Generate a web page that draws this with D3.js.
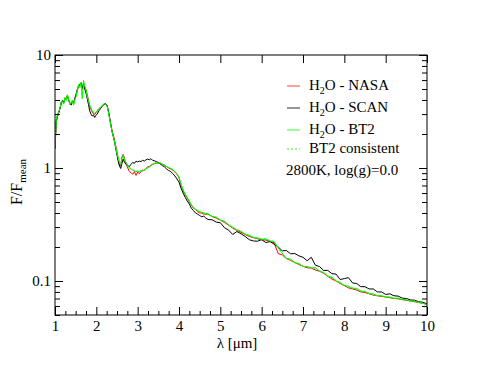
<!DOCTYPE html>
<html><head><meta charset="utf-8">
<script src="https://cdn.jsdelivr.net/npm/d3@7"></script>
<style>
body{margin:0;background:#fff}
svg{display:block}
text{font-family:"Liberation Serif","Times New Roman",serif;fill:#000}
</style>
</head><body>
<svg id="chart" width="494" height="382"></svg>
<script>
// wavelength grid (micron)
const lambda = [1.00,1.03,1.06,1.09,1.12,1.15,1.18,1.21,1.24,1.27,1.30,1.33,1.36,1.39,1.42,1.45,1.48,1.51,1.54,1.57,1.60,1.63,1.66,1.69,1.72,1.75,1.78,1.81,1.84,1.87,1.90,1.93,1.96,1.99,2.02,2.06,2.10,2.14,2.18,2.22,2.26,2.30,2.34,2.38,2.42,2.46,2.50,2.53,2.56,2.59,2.62,2.65,2.68,2.72,2.76,2.80,2.84,2.88,2.92,2.96,3.00,3.04,3.08,3.12,3.16,3.20,3.24,3.28,3.32,3.36,3.40,3.45,3.50,3.55,3.60,3.65,3.70,3.75,3.80,3.85,3.90,3.95,4.00,4.05,4.10,4.15,4.20,4.25,4.30,4.35,4.40,4.45,4.50,4.55,4.60,4.65,
4.7,4.8,4.9,5.0,5.1,5.2,5.3,5.4,5.5,5.6,5.7,5.8,5.9,6.0,6.1,6.2,6.3,6.4,6.5,6.6,6.7,6.8,6.9,7.0,7.1,7.2,7.3,7.4,7.5,7.6,7.7,7.8,7.9,8.0,8.1,8.2,8.3,8.4,8.5,8.6,8.7,8.8,8.9,9.0,9.1,9.2,9.3,9.4,9.5,9.6,9.7,9.8,9.9,10.0];

const bt2 = [1.55,2.68,2.95,3.17,3.35,3.85,3.92,3.68,4.16,3.95,4.45,4.05,3.65,3.76,3.98,3.60,4.00,4.30,4.90,5.46,5.15,5.65,4.10,5.95,5.30,4.90,4.30,3.95,3.60,3.40,3.20,3.10,3.05,3.12,3.15,3.30,3.45,3.55,3.70,3.70,3.55,3.00,2.50,2.12,1.85,1.60,1.35,1.23,1.12,1.07,1.22,1.30,1.18,1.12,1.05,1.00,0.98,0.96,0.95,0.93,0.94,0.92,0.95,0.94,0.96,0.98,1.00,1.02,1.05,1.08,1.09,1.11,1.10,1.11,1.08,1.06,1.03,1.01,0.99,0.97,0.93,0.89,0.83,0.72,0.64,0.59,0.55,0.51,0.47,0.45,0.43,0.42,0.41,0.405,0.40,0.395,
0.394,0.372,0.368,0.346,0.338,0.314,0.299,0.283,0.276,0.259,0.254,0.243,0.240,0.234,0.236,0.226,0.224,0.196,0.176,0.158,0.156,0.145,0.143,0.134,0.135,0.130,0.131,0.122,0.119,0.110,0.108,0.100,0.097,0.091,0.090,0.086,0.086,0.081,0.081,0.077,0.0768,0.0738,0.0742,0.0718,0.0722,0.0702,0.0706,0.0682,0.0684,0.0662,0.0664,0.0644,0.0636,0.0615];

const nasa = [1.52,2.62,2.92,3.12,3.38,3.80,3.96,3.74,4.20,4.05,4.40,4.00,3.78,3.70,3.90,3.70,4.10,4.35,4.80,5.30,5.40,5.60,5.00,5.70,5.25,4.95,4.45,4.00,3.50,3.30,3.12,3.02,2.98,3.08,3.20,3.35,3.42,3.55,3.66,3.70,3.56,3.05,2.55,2.15,1.90,1.64,1.40,1.18,1.06,1.04,1.26,1.32,1.22,1.08,1.00,0.93,0.91,0.88,0.93,0.86,0.92,0.89,0.93,0.96,0.95,0.99,1.02,1.03,1.06,1.07,1.10,1.10,1.11,1.10,1.08,1.05,1.03,1.00,0.98,0.96,0.92,0.88,0.82,0.70,0.63,0.58,0.54,0.50,0.47,0.44,0.43,0.41,0.40,0.40,0.39,0.39,
0.390,0.372,0.360,0.345,0.330,0.312,0.294,0.280,0.270,0.258,0.248,0.242,0.236,0.232,0.230,0.225,0.218,0.175,0.170,0.158,0.152,0.146,0.140,0.135,0.131,0.130,0.125,0.122,0.117,0.110,0.104,0.100,0.095,0.091,0.087,0.085,0.083,0.080,0.079,0.077,0.075,0.0740,0.0730,0.0722,0.0712,0.0700,0.0695,0.0685,0.0675,0.0665,0.0655,0.0645,0.0635,0.0620];

const scan = [1.48,2.55,2.85,3.08,3.35,3.72,3.95,3.80,4.10,4.15,4.35,3.98,3.72,3.60,3.85,3.75,4.15,4.50,5.00,5.30,5.50,5.70,5.10,5.60,5.00,4.60,4.10,3.65,3.20,3.00,2.88,2.95,2.80,2.92,3.00,3.20,3.35,3.50,3.64,3.72,3.60,3.10,2.55,2.10,1.84,1.55,1.30,1.15,1.04,0.99,1.10,1.20,1.12,1.08,1.05,1.03,1.08,1.12,1.10,1.15,1.13,1.15,1.14,1.17,1.15,1.18,1.20,1.18,1.21,1.17,1.16,1.14,1.12,1.08,1.05,1.02,0.98,0.95,0.93,0.89,0.85,0.80,0.75,0.66,0.60,0.55,0.51,0.48,0.44,0.42,0.40,0.39,0.38,0.37,0.375,0.36,
0.350,0.348,0.332,0.328,0.296,0.282,0.258,0.274,0.262,0.248,0.232,0.226,0.225,0.232,0.219,0.223,0.212,0.200,0.185,0.186,0.174,0.175,0.167,0.162,0.151,0.162,0.138,0.134,0.124,0.124,0.116,0.115,0.103,0.105,0.107,0.096,0.095,0.089,0.089,0.085,0.085,0.080,0.080,0.076,0.077,0.074,0.0735,0.0705,0.070,0.068,0.0676,0.0655,0.0648,0.0628];

const bt2Consistent = [1.55,2.66,2.95,3.15,3.36,3.84,3.92,3.70,4.15,3.97,4.44,4.05,3.67,3.76,3.97,3.62,4.01,4.31,4.88,5.42,5.18,5.62,4.20,5.90,5.30,4.91,4.32,3.95,3.60,3.40,3.20,3.10,3.05,3.11,3.16,3.30,3.45,3.55,3.69,3.70,3.55,3.01,2.51,2.12,1.85,1.60,1.36,1.23,1.12,1.08,1.22,1.29,1.18,1.12,1.05,1.00,0.98,0.96,0.95,0.93,0.94,0.93,0.95,0.94,0.96,0.98,1.00,1.02,1.05,1.08,1.09,1.11,1.10,1.11,1.08,1.06,1.03,1.01,0.99,0.97,0.93,0.89,0.83,0.72,0.64,0.59,0.55,0.51,0.47,0.45,0.43,0.42,0.41,0.405,0.40,0.395,
0.392,0.374,0.366,0.347,0.336,0.316,0.298,0.284,0.275,0.260,0.253,0.244,0.239,0.235,0.235,0.227,0.223,0.197,0.175,0.159,0.155,0.146,0.142,0.135,0.134,0.131,0.130,0.123,0.118,0.111,0.107,0.101,0.096,0.092,0.089,0.087,0.085,0.082,0.080,0.078,0.076,0.0742,0.0738,0.0720,0.0718,0.0704,0.0702,0.0685,0.0680,0.0665,0.0660,0.0647,0.0634,0.0617];

const xTicks = [1,2,3,4,5,6,7,8,9,10];
const xMinor = [1.25,1.5,1.75,2.25,2.5,2.75,3.25,3.5,3.75,4.25,4.5,4.75,5.25,5.5,5.75,6.25,6.5,6.75,7.25,7.5,7.75,8.25,8.5,8.75,9.25,9.5,9.75];
const yTicks = [0.1,1,10];
const yTickLabels = ["0.1","1","10"];
const yMinor = [0.05,0.06,0.07,0.08,0.09,0.2,0.3,0.4,0.5,0.6,0.7,0.8,0.9,2,3,4,5,6,7,8,9];

const seriesNames = ["NASA","SCAN","BT2","BT2 consistent"];
const seriesData = [nasa, scan, bt2, bt2Consistent];
const seriesColors = ["#ff0000","#000000","#00ff00","#00ff00"];
const legendColors = ["#ff4040","#303030","#30ff30","#30ff30"];
const seriesDash = [null,null,null,"2,2"];

const svg = d3.select("#chart");
const L = 55, R = 427, T = 55, B = 315;
const x = d3.scaleLinear().domain([1,10]).range([L,R]);
const y = d3.scaleLog().domain([0.05,10]).range([B,T]);

const line = d3.line().x(d=>x(d[0])).y(d=>y(d[1]));

const plot = svg.append("g");
plot.append("clipPath").attr("id","clip").append("rect")
  .attr("x",L).attr("y",T).attr("width",R-L).attr("height",B-T);
const curves = plot.append("g").attr("clip-path","url(#clip)");
seriesData.forEach((vals,i)=>{
  const pts = lambda.map((l,j)=>[l, vals[j]]);
  const p = curves.append("path").datum(pts)
    .attr("d", line)
    .attr("fill","none")
    .attr("stroke", seriesColors[i])
    .attr("stroke-width", 1);
  if(seriesDash[i]) p.attr("stroke-dasharray", seriesDash[i]);
});

function style(g, size){
  g.select(".domain").remove();
  g.selectAll(".tick line").attr("stroke","#000").attr("stroke-width",1);
  g.selectAll("text").attr("font-family",'"Liberation Serif","Times New Roman",serif').attr("font-size",size).attr("fill","#000");
}

// bottom
svg.append("g").attr("transform",`translate(0,${B})`)
  .call(d3.axisBottom(x).tickValues(xTicks).tickSizeInner(-8).tickSizeOuter(0).tickPadding(5).tickFormat(d3.format("d")))
  .call(g=>style(g,15));
svg.append("g").attr("transform",`translate(0,${B})`)
  .call(d3.axisBottom(x).tickValues(xMinor).tickSizeInner(-4).tickSizeOuter(0).tickFormat(""))
  .call(g=>style(g,15));
// top
svg.append("g").attr("transform",`translate(0,${T})`)
  .call(d3.axisTop(x).tickValues(xTicks).tickSizeInner(-8).tickSizeOuter(0).tickFormat(""))
  .call(g=>style(g,15));
// left
svg.append("g").attr("transform",`translate(${L},0)`)
  .call(d3.axisLeft(y).tickValues(yTicks).tickSizeInner(-8).tickSizeOuter(0).tickPadding(4).tickFormat((d,i)=>yTickLabels[i]))
  .call(g=>style(g,15));
svg.append("g").attr("transform",`translate(${L},0)`)
  .call(d3.axisLeft(y).tickValues(yMinor).tickSizeInner(-5).tickSizeOuter(0).tickFormat(""))
  .call(g=>style(g,15));
// right
svg.append("g").attr("transform",`translate(${R},0)`)
  .call(d3.axisRight(y).tickValues(yTicks).tickSizeInner(-8).tickSizeOuter(0).tickFormat(""))
  .call(g=>style(g,15));
svg.append("g").attr("transform",`translate(${R},0)`)
  .call(d3.axisRight(y).tickValues(yMinor).tickSizeInner(-5).tickSizeOuter(0).tickFormat(""))
  .call(g=>style(g,15));

// frame
svg.append("rect").attr("x",L).attr("y",T).attr("width",R-L).attr("height",B-T)
  .attr("fill","none").attr("stroke","#000").attr("stroke-width",1);

// axis titles
svg.append("text").attr("x",(L+R)/2 - 4).attr("y",348).attr("text-anchor","middle")
  .attr("font-size",15).text("λ [μm]");
const yt = svg.append("text").attr("transform",`translate(22,182) rotate(-90)`)
  .attr("text-anchor","middle").attr("font-size",16);
yt.append("tspan").text("F/F");
yt.append("tspan").attr("font-size",11).attr("dy",4).text("mean");

// legend
const legBase = [90,112,134,153];
seriesNames.forEach((name,i)=>{
  const ln = svg.append("line").attr("x1",287).attr("x2",300)
    .attr("y1",legBase[i]-4).attr("y2",legBase[i]-4)
    .attr("stroke",legendColors[i]).attr("stroke-width",1);
  if(seriesDash[i]) ln.attr("stroke-dasharray", seriesDash[i]);
  const t = svg.append("text").attr("x",309).attr("y",legBase[i]).attr("font-size",15);
  if(i<3){
    t.append("tspan").text("H");
    t.append("tspan").attr("font-size",10).attr("dy",4).text("2");
    t.append("tspan").attr("dy",-4).text("O - "+name);
  } else {
    t.text(name);
  }
});
svg.append("text").attr("x",286).attr("y",175).attr("font-size",15).text("2800K, log(g)=0.0");
</script>
</body></html>
